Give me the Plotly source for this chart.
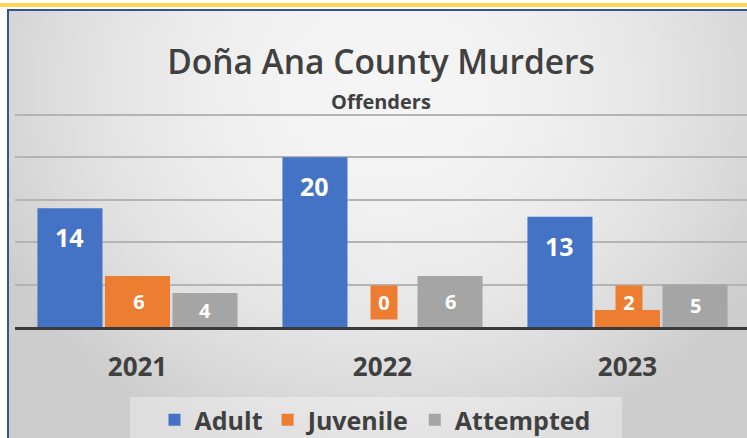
import base64
import struct
import zlib

import plotly.graph_objects as go

# ---------------- data ----------------
years = ["2021", "2022", "2023"]
adult = [14, 20, 13]
juvenile = [6, 0, 2]
attempted = [4, 6, 5]

series_names = ["Adult", "Juvenile", "Attempted"]
series_colors = ["#4472C4", "#ED7D31", "#A5A5A5"]

# ---------------- geometry helpers ----------------
W, H = 747, 438
L, R, T, B = 15, 0, 112, 111
PW, PH = W - L - R, H - T - B
CAT_PX = 245.0
BARGAP = 0.173
BARGROUPGAP = 0.037
PITCH = CAT_PX * (1 - BARGAP) / 3.0
YMAX = 25.35
YTOP_GRID = 25


def px(x):
    return (x - L) / PW


def py(y):
    return (H - B - y) / PH


# ---------------- background gradient (png data uri) ----------------
def gradient_png(w, h):
    rows = []
    for j in range(h):
        yy = 11 + (j + 0.5) * (H - 11) / h
        row = bytearray()
        for i in range(w):
            xx = 9 + (i + 0.5) * (W - 9) / w
            d2 = ((xx - 385) / 430.0) ** 2 + ((yy - 90) / 380.0) ** 2
            d2 = min(d2, 1.0)
            row.append(int(round(245 - 40 * d2)))
        rows.append(bytes(row))
    raw = b"".join(b"\x00" + r for r in rows)

    def chunk(tag, data):
        c = struct.pack(">I", len(data)) + tag + data
        return c + struct.pack(">I", zlib.crc32(tag + data) & 0xFFFFFFFF)

    png = (b"\x89PNG\r\n\x1a\n"
           + chunk(b"IHDR", struct.pack(">IIBBBBB", w, h, 8, 0, 0, 0, 0))
           + chunk(b"IDAT", zlib.compress(raw, 9))
           + chunk(b"IEND", b""))
    return "data:image/png;base64," + base64.b64encode(png).decode()


bg_src = gradient_png(74, 43)

# ---------------- figure ----------------
fig = go.Figure()
for name, vals, col in zip(series_names, [adult, juvenile, attempted], series_colors):
    fig.add_trace(go.Bar(name=name, x=years, y=vals, marker_color=col,
                         marker_line_width=0, hoverinfo="x+y+name"))

LABEL_FONT_BIG = dict(family="Open Sans", size=25, color="white", weight="bold")
LABEL_FONT = dict(family="Open Sans", size=20, color="white", weight="bold")

annotations = []
for i, v in enumerate(adult):
    annotations.append(dict(x=i, y=v, xref="x", yref="y", text=str(v),
                            showarrow=False, xshift=-PITCH, yshift=-29,
                            font=LABEL_FONT_BIG))
for i, v in enumerate(juvenile):
    annotations.append(dict(x=i, y=max(v / 2.0, 2.9), xref="x", yref="y",
                            text=str(v), showarrow=False, xshift=1,
                            font=LABEL_FONT, bgcolor="#ED7D31", width=20,
                            borderpad=3))
for i, v in enumerate(attempted):
    annotations.append(dict(x=i, y=v / 2.0, xref="x", yref="y", text=str(v),
                            showarrow=False, xshift=PITCH, font=LABEL_FONT))

# subtitle
annotations.append(dict(x=0.5, y=py(101), xref="paper", yref="paper",
                        text="Offenders", showarrow=False, yanchor="middle",
                        font=dict(family="Open Sans", size=20, color="#404040",
                                  weight="bold")))

shapes = [
    # lighter legend panel
    dict(type="rect", xref="paper", yref="paper", layer="below",
         x0=px(130), x1=px(622), y0=py(440), y1=py(397),
         fillcolor="rgba(255,255,255,0.35)", line_width=0),
    # yellow top band
    dict(type="rect", xref="paper", yref="paper", layer="below",
         x0=px(0), x1=px(W), y0=py(7), y1=py(3),
         fillcolor="#FFD551", line_width=0),
    # blue frame top
    dict(type="rect", xref="paper", yref="paper", layer="below",
         x0=px(7), x1=px(W), y0=py(11), y1=py(9),
         fillcolor="#2F5597", line_width=0),
    # blue frame left
    dict(type="rect", xref="paper", yref="paper", layer="below",
         x0=px(7), x1=px(9), y0=py(H), y1=py(9),
         fillcolor="#2F5597", line_width=0),
    # top gridline of the value axis
    dict(type="line", xref="paper", yref="y", layer="below",
         x0=0, x1=1, y0=YTOP_GRID, y1=YTOP_GRID,
         line=dict(color="#c4c4c4", width=1.5)),
]

fig.update_layout(
    width=W, height=H,
    margin=dict(l=L, r=R, t=T, b=B, pad=0, autoexpand=False),
    paper_bgcolor="white",
    plot_bgcolor="rgba(0,0,0,0)",
    barmode="group",
    bargap=BARGAP,
    bargroupgap=BARGROUPGAP,
    title=dict(text="Doña Ana County Murders", x=0.5, xref="paper",
               xanchor="center", y=1 - 62 / H, yref="container",
               yanchor="middle",
               font=dict(family="Open Sans", size=33.5, color="#404040",
                         weight=600)),
    xaxis=dict(type="category", range=[-0.5, -0.5 + PW / CAT_PX],
               showgrid=False, showline=True, linecolor="#3a3a3a",
               linewidth=3, ticks="", ticklabelstandoff=15,
               tickfont=dict(family="Open Sans", size=26, color="#404040",
                             weight="bold"),
               fixedrange=True),
    yaxis=dict(range=[0, YMAX], dtick=5, showticklabels=False,
               showgrid=True, gridcolor="#b4b4b4", gridwidth=1.5,
               zeroline=False, showline=False, fixedrange=True),
    showlegend=True,
    legend=dict(orientation="h", x=px(375), xanchor="center", y=py(420),
                yanchor="middle", bgcolor="rgba(0,0,0,0)",
                font=dict(family="Open Sans", size=25, color="#404040",
                          weight="bold"),
                itemclick=False, itemdoubleclick=False),
    images=[dict(source=bg_src, xref="paper", yref="paper", x=px(9), y=py(11),
                 sizex=(W - 9) / PW, sizey=(H - 11) / PH, xanchor="left",
                 yanchor="top", sizing="stretch", layer="below")],
    shapes=shapes,
    annotations=annotations,
)

fig.write_html("out.html",
               config={"displayModeBar": False},
               post_script="document.body.style.margin='0';"
                           "document.body.style.overflow='hidden';")
